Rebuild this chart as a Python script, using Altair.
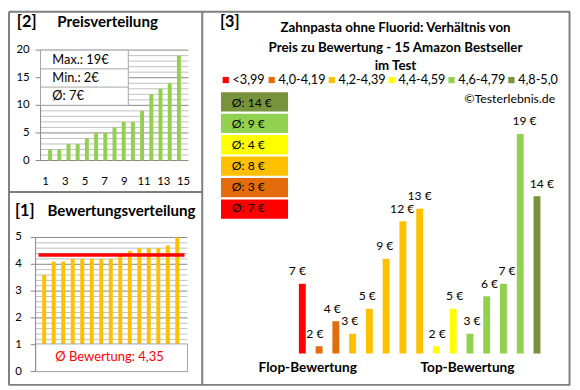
import altair as alt
import pandas as pd

# ---------------- data ----------------
ranks = list(range(1, 16))
prices_sorted = [2, 2, 3, 3, 4, 5, 5, 6, 7, 7, 9, 12, 13, 14, 19]
ratings_sorted = [3.6, 4.1, 4.1, 4.2, 4.2, 4.2, 4.2, 4.2, 4.4, 4.5, 4.6, 4.6, 4.6, 4.7, 5.0]
product_prices = [7, 2, 4, 3, 5, 9, 12, 13, 2, 5, 3, 6, 7, 19, 14]
product_group_idx = [0, 1, 1, 2, 2, 2, 2, 2, 3, 3, 4, 4, 4, 4, 5]
group_labels = ["<3,99", "4,0-4,19", "4,2-4,39", "4,4-4,59", "4,6-4,79", "4,8-5,0"]
group_colors = ["#FF0000", "#E46C0A", "#FFC000", "#FFFF00", "#92D050", "#77933C"]
price_tick_values = [0, 5, 10, 15, 20]
rank_tick_values = [1, 3, 5, 7, 9, 11, 13, 15]
rating_tick_values = [0, 1, 2, 3, 4, 5]
main_title = ["Zahnpasta ohne Fluorid: Verhältnis von",
              "Preis zu Bewertung - 15 Amazon Bestseller",
              "im Test"]

# ---------------- layout helpers ----------------
W, H = 572, 382
OX, OY = 8, 8
FONT = "Lato"
GRID_MINOR = "#BFBFBF"
GRID_MAJOR = "#868686"
FRAME = "#7F7F7F"
BOXLINE = "#A6A6A6"
one = pd.DataFrame({"k": [0]})
legend_item_left = [225.7, 272.3, 333.3, 394.0, 454.7, 515.4]   # layout (px)


def X(v):
    return v - OX


def Y(v):
    return v - OY


def hline(x1, x2, y, color, w=1):
    return alt.Chart(one).mark_rule(color=color, strokeWidth=w).encode(
        x=alt.value(X(x1)), x2=alt.value(X(x2)), y=alt.value(Y(y)))


def vline(x, y1, y2, color, w=1):
    return alt.Chart(one).mark_rule(color=color, strokeWidth=w).encode(
        x=alt.value(X(x)), y=alt.value(Y(y1)), y2=alt.value(Y(y2)))


def label(text, x, y, size, bold=False, align="left", color="black"):
    return alt.Chart(one).mark_text(
        text=text, font=FONT, fontSize=size, fontWeight="bold" if bold else "normal",
        align=align, baseline="middle", color=color).encode(
        x=alt.value(X(x)), y=alt.value(Y(y)))


def box(x1, x2, y1, y2, stroke=BOXLINE, fill="white", sw=1):
    return alt.Chart(one).mark_rect(fill=fill, stroke=stroke, strokeWidth=sw).encode(
        x=alt.value(X(x1)), x2=alt.value(X(x2)), y=alt.value(Y(y1)), y2=alt.value(Y(y2)))


layers = []

# ---------------- frame ----------------
layers += [
    hline(9, 578, 9, FRAME, 2),
    hline(9, 578, 387.5, FRAME, 2),
    vline(9, 9, 388, FRAME, 2),
    vline(577.5, 9, 388, FRAME, 2),
    vline(205, 9, 388, FRAME, 2),
    hline(9, 205, 192, FRAME, 2),
]

# ---------------- panel [2] Preisverteilung ----------------
sx2 = alt.Scale(domain=[0.5, 15.5], range=[X(41), X(191)])
sy2 = alt.Scale(domain=[0, 20], range=[Y(160), Y(48)])
minor2 = [v for v in range(0, 21) if v % 5]
df_p2 = pd.DataFrame({"rank": ranks, "price": prices_sorted})

layers.append(alt.Chart(pd.DataFrame({"v": minor2})).mark_rule(color=GRID_MINOR).encode(
    y=alt.Y("v:Q", scale=sy2, axis=None), x=alt.value(X(41)), x2=alt.value(X(191))))
layers.append(alt.Chart(pd.DataFrame({"v": price_tick_values})).mark_rule(color=GRID_MAJOR).encode(
    y=alt.Y("v:Q", scale=sy2, axis=None), x=alt.value(X(36)), x2=alt.value(X(191))))
layers.append(alt.Chart(df_p2).mark_bar(size=4, color="#92D050").encode(
    x=alt.X("rank:Q", scale=sx2, axis=None), y=alt.Y("price:Q", scale=sy2, axis=None)))
layers.append(vline(41, 48, 160, GRID_MAJOR))
layers.append(alt.Chart(pd.DataFrame({"v": price_tick_values})).mark_text(
    font=FONT, fontSize=11.5, align="right", baseline="middle", color="black").encode(
    y=alt.Y("v:Q", scale=sy2, axis=None), x=alt.value(X(30)), text="v:Q"))
layers.append(alt.Chart(pd.DataFrame({"r": rank_tick_values})).mark_text(
    font=FONT, fontSize=11.5, align="center", baseline="middle", color="black").encode(
    x=alt.X("r:Q", scale=sx2, axis=None), y=alt.value(Y(182)), text="r:Q"))

p_max = max(prices_sorted)
p_min = min(prices_sorted)
p_avg = int(sum(prices_sorted) / len(prices_sorted) + 0.5)
layers += [
    box(41, 130, 48, 104),
    hline(41, 130, 67, BOXLINE),
    hline(41, 130, 85.5, BOXLINE),
    label(f"Max.: {p_max}€", 53, 58, 13),
    label(f"Min.: {p_min}€", 53, 76.5, 13),
    label(f"Ø: {p_avg}€", 53, 95, 13),
    label("[2]", 17, 20, 16.5, bold=True),
    label("Preisverteilung", 58, 20, 15.3, bold=True),
]

# ---------------- panel [1] Bewertungsverteilung ----------------
sx1 = alt.Scale(domain=[1, 15], range=[X(39.7), X(184.7)])
sy1 = alt.Scale(domain=[0, 5], range=[Y(374), Y(238)])
minor1 = [round(i * 0.2, 1) for i in range(26) if i % 5]
df_p1 = pd.DataFrame({"rank": ranks, "rating": ratings_sorted})
r_avg = sum(ratings_sorted) / len(ratings_sorted)

layers.append(alt.Chart(pd.DataFrame({"v": minor1})).mark_rule(color=GRID_MINOR).encode(
    y=alt.Y("v:Q", scale=sy1, axis=None), x=alt.value(X(36)), x2=alt.value(X(190))))
layers.append(alt.Chart(pd.DataFrame({"v": rating_tick_values})).mark_rule(color=GRID_MAJOR).encode(
    y=alt.Y("v:Q", scale=sy1, axis=None), x=alt.value(X(31)), x2=alt.value(X(190))))
layers.append(alt.Chart(df_p1).mark_bar(size=4, color="#FFC000").encode(
    x=alt.X("rank:Q", scale=sx1, axis=None), y=alt.Y("rating:Q", scale=sy1, axis=None)))
layers.append(alt.Chart(pd.DataFrame({"m": [r_avg]})).mark_rule(color="#FF0000", strokeWidth=3.5).encode(
    y=alt.Y("m:Q", scale=sy1, axis=None), x=alt.value(X(39)), x2=alt.value(X(187))))
layers.append(box(36, 190, 346, 374))
layers.append(vline(36, 238, 374, GRID_MAJOR))
layers.append(alt.Chart(pd.DataFrame({"v": rating_tick_values})).mark_text(
    font=FONT, fontSize=11.5, align="right", baseline="middle", color="black").encode(
    y=alt.Y("v:Q", scale=sy1, axis=None), x=alt.value(X(22)), text="v:Q"))
avg_txt = f"{r_avg:.2f}".replace(".", ",")
layers += [
    label(f"Ø Bewertung: {avg_txt}", 111, 359, 13.2, align="center", color="#FF0000"),
    label("[1]", 15, 211, 16.5, bold=True),
    label("Bewertungsverteilung", 48, 211, 15.3, bold=True),
]

# ---------------- panel [3] price vs rating ----------------
price_axis_min = 1.42
sx3 = alt.Scale(domain=[1, 15], range=[X(301.5), X(549.5)])
sy3 = alt.Scale(domain=[price_axis_min, 20], range=[Y(355.7), Y(120.3)], zero=False)
df_p3 = pd.DataFrame({
    "pos": ranks,
    "price": product_prices,
    "group": [group_labels[i] for i in product_group_idx],
    "lab": [f"{p} €" for p in product_prices],
})
color_scale = alt.Scale(domain=group_labels, range=group_colors)

layers.append(alt.Chart(df_p3).mark_bar(size=7).encode(
    x=alt.X("pos:Q", scale=sx3, axis=None),
    y=alt.Y("price:Q", scale=sy3, axis=None),
    y2=alt.datum(price_axis_min),
    color=alt.Color("group:N", scale=color_scale, legend=None)))
layers.append(alt.Chart(df_p3).mark_text(
    font=FONT, fontSize=12.3, baseline="middle", align="center", dy=-12.7, color="black").encode(
    x=alt.X("pos:Q", scale=sx3, axis=None),
    y=alt.Y("price:Q", scale=sy3, axis=None),
    text="lab:N"))

# colour legend row
for lbl, col, lx in zip(group_labels, group_colors, legend_item_left):
    layers.append(box(lx, lx + 6.3, 75.2, 81.5, stroke=col, fill=col, sw=0))
    layers.append(label(lbl, lx + 10, 78.5, 12.8))

# group averages (legend boxes)
grp_avg = []
for gi in range(len(group_labels)):
    vals = [p for p, g in zip(product_prices, product_group_idx) if g == gi]
    grp_avg.append(int(sum(vals) / len(vals) + 0.5))
df_avg = pd.DataFrame({"group": group_labels, "txt": [f"Ø: {a} €" for a in grp_avg]})
box_order = list(reversed(group_labels))
sy_box = alt.Scale(domain=box_order, range=[Y(90.7), Y(219)], paddingInner=0.1, paddingOuter=0)
layers.append(alt.Chart(df_avg).mark_rect().encode(
    y=alt.Y("group:N", scale=sy_box, axis=None),
    x=alt.value(X(224)), x2=alt.value(X(292)),
    fill=alt.Fill("group:N", scale=color_scale, legend=None)))
layers.append(alt.Chart(df_avg).mark_text(
    font=FONT, fontSize=12.3, align="left", baseline="middle", color="black").encode(
    y=alt.Y("group:N", scale=sy_box, axis=None),
    x=alt.value(X(235)), text="txt:N"))

layers += [
    label("[3]", 223, 20, 16.5, bold=True),
    label(main_title[0], 401, 26, 13.5, bold=True, align="center"),
    label(main_title[1], 401, 45.5, 13.5, bold=True, align="center"),
    label(main_title[2], 401, 64, 13.5, bold=True, align="center"),
    label("©Testerlebnis.de", 563, 98, 12.5, align="right"),
    label("Flop-Bewertung", 312, 370, 13.8, bold=True, align="center"),
    label("Top-Bewertung", 474, 370, 13.8, bold=True, align="center"),
]

chart = alt.layer(*layers).resolve_scale(
    x="independent", y="independent"
).properties(
    width=W, height=H, padding=0, autosize=alt.AutoSizeParams(type="none")
).configure_view(stroke=None)

chart.save("out.html", embed_options={"renderer": "svg", "actions": False})
